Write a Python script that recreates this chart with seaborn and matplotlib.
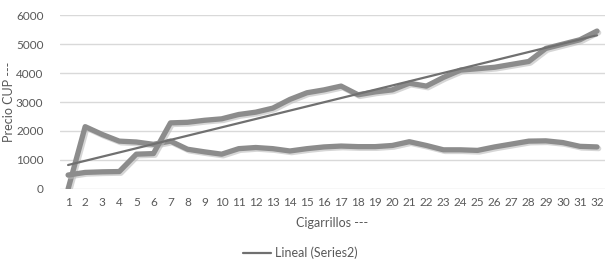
import numpy as np
import pandas as pd
import matplotlib
matplotlib.use('Agg')
import matplotlib.pyplot as plt
import matplotlib.patheffects as pe
import seaborn as sns

cigarrillos = list(range(1, 33))
series1 = [0, 2150, 1880, 1650, 1620, 1540, 1650, 1370, 1280, 1200, 1390, 1430, 1390, 1310, 1390, 1450,
           1480, 1460, 1460, 1500, 1630, 1500, 1350, 1350, 1330, 1450, 1550, 1650, 1660, 1600, 1470, 1450]
series2 = [480, 570, 590, 600, 1200, 1220, 2280, 2300, 2370, 2420, 2570, 2650, 2790, 3090, 3320, 3420,
           3550, 3250, 3350, 3420, 3650, 3550, 3850, 4100, 4150, 4200, 4300, 4400, 4850, 5000, 5150, 5450]
yticks = [0, 1000, 2000, 3000, 4000, 5000, 6000]

sns.set_style('white')
plt.rcParams['font.family'] = ['Lato', 'DejaVu Sans']

df = pd.DataFrame({
    'x': cigarrillos * 2,
    'precio': series1 + series2,
    'serie': ['Series1'] * 32 + ['Series2'] * 32,
})

fig = plt.figure(figsize=(6.13, 2.75), dpi=100)
ax = fig.add_axes([0.098, 0.313, 0.889, 0.632])

shadow = [pe.SimpleLineShadow(offset=(1.2, -1.2), shadow_color='#bbbbbb', alpha=0.6), pe.Normal()]
sns.lineplot(data=df, x='x', y='precio', hue='serie', palette=['#8c8c8c', '#8c8c8c'],
             linewidth=3.8, ax=ax, legend=False)
for ln in ax.lines:
    ln.set_path_effects(shadow)
    ln.set_solid_joinstyle('round')

# linear trend of Series2
coef = np.polyfit(cigarrillos, series2, 1)
trend = pd.DataFrame({'x': cigarrillos, 'y': np.polyval(coef, cigarrillos)})
sns.lineplot(data=trend, x='x', y='y', color='#707070', linewidth=1.6, ax=ax,
             label='Lineal (Series2)', legend=False)

ax.set_xlim(0.53, 32.47)
ax.set_ylim(0, 6000)
ax.set_xticks(cigarrillos)
ax.set_yticks(yticks)
ax.tick_params(axis='both', length=0, labelsize=8.5, labelcolor='#595959')
ax.tick_params(axis='y', pad=12)
ax.tick_params(axis='x', pad=6)
ax.grid(axis='y', color='#d9d9d9', linewidth=1)
for s in ax.spines.values():
    s.set_visible(False)

ax.set_xlabel('Cigarrillos ---', fontsize=9, color='#595959', labelpad=6)
ax.set_ylabel('Precio CUP ---', fontsize=9, color='#595959')
ax.yaxis.set_label_coords(-0.083, 0.5)

h = ax.lines[-1]
fig.legend([h], ['Lineal (Series2)'], loc='center', bbox_to_anchor=(0.49, 0.08), frameon=False,
           fontsize=9, labelcolor='#595959', handlelength=2.2, handletextpad=0.3)

fig.savefig('out.png', dpi=100)
